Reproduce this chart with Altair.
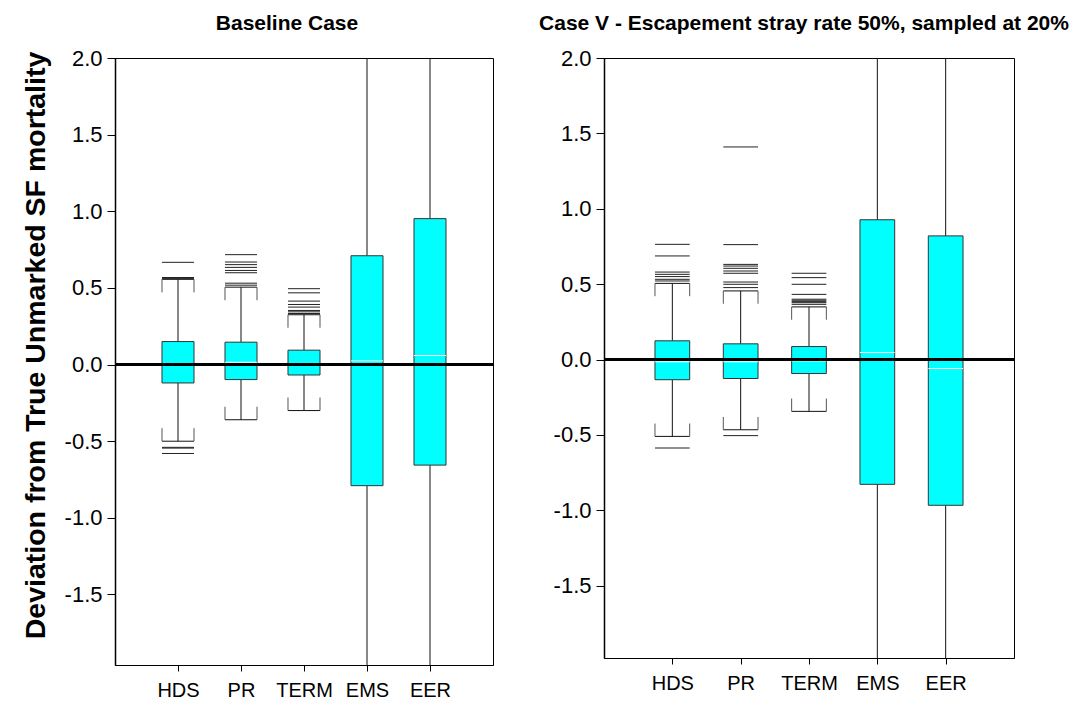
import altair as alt
import pandas as pd

categories = ["HDS", "PR", "TERM", "EMS", "EER"]

# ---- Baseline Case ----
base_q1 = [-0.12, -0.098, -0.068, -0.79, -0.656]
base_median = [0.0, 0.015, 0.007, 0.024, 0.059]
base_q3 = [0.15, 0.146, 0.094, 0.71, 0.952]
base_whisk_lo = [-0.50, -0.36, -0.30, -2.6, -2.6]
base_whisk_hi = [0.556, 0.505, 0.325, 2.6, 2.6]
base_out_hds = [0.562, 0.568, 0.667, -0.54, -0.545, -0.58]
base_out_pr = [0.518, 0.531, 0.599, 0.614, 0.634, 0.652, 0.669, 0.717]
base_out_term = [0.333, 0.344, 0.353, 0.375, 0.392, 0.414, 0.468, 0.495]

# ---- Case V ----
case5_q1 = [-0.134, -0.126, -0.093, -0.828, -0.967]
case5_median = [-0.015, -0.015, -0.009, 0.046, -0.06]
case5_q3 = [0.124, 0.104, 0.086, 0.927, 0.82]
case5_whisk_lo = [-0.51, -0.466, -0.344, -2.6, -2.6]
case5_whisk_hi = [0.505, 0.455, 0.349, 2.6, 2.6]
case5_out_hds = [0.521, 0.532, 0.55, 0.565, 0.58, 0.687, 0.764, -0.587]
case5_out_pr = [0.477, 0.499, 0.514, 0.572, 0.587, 0.605, 0.62, 0.631, 0.762, 1.41, -0.505]
case5_out_term = [0.366, 0.377, 0.384, 0.393, 0.40, 0.432, 0.499, 0.543, 0.572]

y_ticks = [-1.5, -1.0, -0.5, 0.0, 0.5, 1.0, 1.5, 2.0]

HW = 0.254     # half box width in category steps
CAP = 0.085    # length of the little cap end ticks (data units)
FONT = "Liberation Sans"


def frames(q1, med, q3, lo, hi, outs):
    seg = []
    boxes = []
    for i, c in enumerate(categories):
        x = i + 1
        xl, xr = x - HW, x + HW
        boxes.append(dict(cat=c, xl=xl, xr=xr, q1=q1[i], q3=q3[i], med=med[i]))
        seg.append(dict(x=x, x2=x, y=q3[i], y2=hi[i], col="#111111"))
        seg.append(dict(x=x, x2=x, y=lo[i], y2=q1[i], col="#111111"))
        seg.append(dict(x=xl, x2=xr, y=hi[i], y2=hi[i], col="#111111"))
        seg.append(dict(x=xl, x2=xr, y=lo[i], y2=lo[i], col="#111111"))
        for xe in (xl, xr):
            seg.append(dict(x=xe, x2=xe, y=hi[i], y2=hi[i] - CAP, col="#555555"))
            seg.append(dict(x=xe, x2=xe, y=lo[i], y2=lo[i] + CAP, col="#555555"))
        for v in outs.get(c, []):
            seg.append(dict(x=xl, x2=xr, y=v, y2=v, col="#222222"))
    return pd.DataFrame(seg), pd.DataFrame(boxes)


Y_LABEL = "datum.value < 0 ? '-' + format(-datum.value, '.1f') : format(datum.value, '.1f')"


def panel(q1, med, q3, lo, hi, outs, title, dx, ydomain, ytitle, width, height):
    seg_df, box_df = frames(q1, med, q3, lo, hi, outs)
    xscale = alt.Scale(domain=[0, 6], nice=False, zero=False)
    yscale = alt.Scale(domain=ydomain, nice=False, zero=False)
    xaxis = alt.Axis(values=[1, 2, 3, 4, 5], title=None, grid=False,
                     labelExpr="['HDS','PR','TERM','EMS','EER'][datum.value - 1]",
                     tickSize=6, labelFontSize=20, labelPadding=9, labelFont=FONT,
                     domainColor="black", tickColor="black", labelColor="black")
    yargs = dict(values=y_ticks, labelExpr=Y_LABEL, grid=False, tickSize=8, labelPadding=5,
                 labelFontSize=22, labelFont=FONT, domainColor="black", domainWidth=1.5,
                 tickColor="black", labelColor="black")
    if ytitle:
        yaxis = alt.Axis(title=ytitle, titleFontSize=28.5, titleFont=FONT, titleFontWeight="bold",
                         titleColor="black", titlePadding=14, titleY=287, **yargs)
    else:
        yaxis = alt.Axis(title=None, **yargs)

    segs = alt.Chart(seg_df).mark_rule(strokeWidth=1, clip=True).encode(
        x=alt.X("x:Q", scale=xscale, axis=xaxis),
        x2="x2:Q",
        y=alt.Y("y:Q", scale=yscale, axis=yaxis),
        y2="y2:Q",
        color=alt.Color("col:N", scale=None),
    )
    box = alt.Chart(box_df).mark_bar(fill="#00FFFF", stroke="#333333", strokeWidth=1, clip=True).encode(
        x=alt.X("xl:Q", scale=xscale, axis=xaxis), x2="xr:Q",
        y=alt.Y("q1:Q", scale=yscale, axis=yaxis), y2="q3:Q",
    )
    medl = alt.Chart(box_df).mark_rule(color="white", strokeWidth=1).encode(
        x=alt.X("xl:Q", scale=xscale, axis=xaxis), x2="xr:Q",
        y=alt.Y("med:Q", scale=yscale, axis=yaxis),
    )
    zero = alt.Chart(pd.DataFrame({"v": [0.0]})).mark_rule(color="black", strokeWidth=3).encode(
        y=alt.Y("v:Q", scale=yscale, axis=yaxis)
    )
    return alt.layer(segs, box, medl, zero).properties(
        width=width, height=height,
        title=alt.TitleParams(title, font=FONT, fontSize=21, fontWeight="bold", color="black",
                              anchor="middle", dx=dx, offset=13),
    )


left = panel(base_q1, base_median, base_q3, base_whisk_lo, base_whisk_hi,
             {"HDS": base_out_hds, "PR": base_out_pr, "TERM": base_out_term},
             "Baseline Case", -17, [-1.96, 2.0],
             "Deviation from True Unmarked SF mortality", 378, 607)
right = panel(case5_q1, case5_median, case5_q3, case5_whisk_lo, case5_whisk_hi,
              {"HDS": case5_out_hds, "PR": case5_out_pr, "TERM": case5_out_term},
              "Case V - Escapement stray rate 50%, sampled at 20%", -5, [-1.98, 2.0],
              None, 410, 600)

chart = alt.hconcat(left, right, spacing=111, bounds="flush").properties(
    padding={"left": 20, "top": 12, "right": 3, "bottom": 0}
).configure_view(stroke="black", strokeWidth=1)

chart.save("out.html", embed_options={"renderer": "svg", "actions": False})
